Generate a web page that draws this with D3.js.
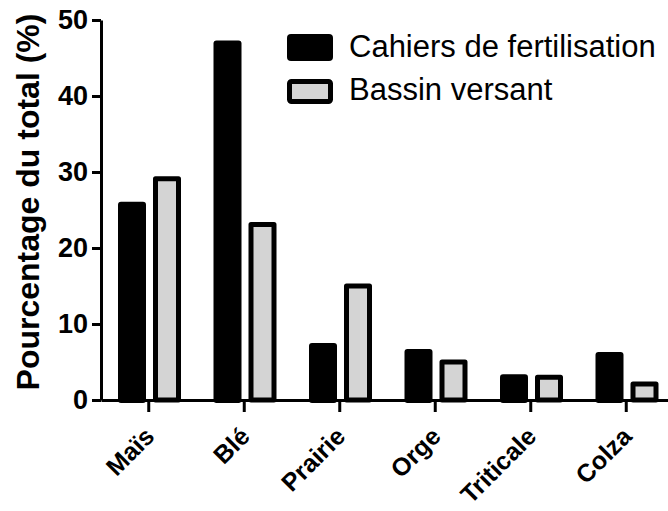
<!DOCTYPE html>
<html><head><meta charset="utf-8">
<script src="https://cdn.jsdelivr.net/npm/d3@7"></script>
<style>body{margin:0;background:#fff;}svg{display:block;font-family:"Liberation Sans",Arial,sans-serif;}</style>
</head><body>
<svg id="chart" width="668" height="511"></svg>
<script>
const categories = ["Maïs","Blé","Prairie","Orge","Triticale","Colza"];
const seriesNames = ["Cahiers de fertilisation","Bassin versant"];
const cahiers = [26.1, 47.3, 7.5, 6.7, 3.4, 6.3];
const bassin = [29.1, 23.1, 15.0, 5.0, 3.0, 2.1];
const yTicks = [0,10,20,30,40,50];
const yTitle = "Pourcentage du total (%)";

const svg = d3.select("#chart");
const x = d3.scaleBand().domain(categories).range([101, 674]);
const x1 = d3.scaleBand().domain(["c","b"]).range([17, 80]).paddingInner(0.2);
const y = d3.scaleLinear().domain([0,50]).range([400, 20]);
const SW = 5;
const grey = "#d4d4d4";
const FONT = "'Liberation Sans',Arial,sans-serif";

const g = svg.append("g");
g.selectAll("rect.c").data(categories).join("rect").attr("class","c")
  .attr("x", d => x(d) + x1("c"))
  .attr("y", (d,i) => y(cahiers[i]))
  .attr("width", x1.bandwidth())
  .attr("height", (d,i) => y(0) - y(cahiers[i]) + 3)
  .attr("rx", 3).attr("fill", "#000");
g.selectAll("rect.b").data(categories).join("rect").attr("class","b")
  .attr("x", d => x(d) + x1("b") + SW/2)
  .attr("y", (d,i) => y(bassin[i]))
  .attr("width", x1.bandwidth() - SW)
  .attr("height", (d,i) => y(0) - y(bassin[i]))
  .attr("fill", grey).attr("stroke", "#000").attr("stroke-width", SW)
  .attr("stroke-linejoin","round");

// y axis
const ya = svg.append("g").attr("transform","translate(101,0)")
  .call(d3.axisLeft(y).tickValues(yTicks).tickSize(9).tickSizeOuter(0).tickFormat(d3.format("d")));
ya.select(".domain").attr("stroke-width",3);
ya.selectAll(".tick line").attr("stroke-width",3);
ya.selectAll(".tick text").attr("font-size",27).attr("font-weight","bold")
  .attr("font-family",FONT).attr("x",-13).attr("fill","#000");

// x axis (ticks only; labels drawn separately)
const xa = svg.append("g").attr("transform","translate(0,400)")
  .call(d3.axisBottom(x).tickSize(12).tickSizeOuter(0).tickFormat(""));
xa.select(".domain").attr("stroke-width",3);
xa.selectAll(".tick line").attr("stroke-width",3);

svg.append("g").selectAll("text").data(categories).join("text")
  .attr("transform", d => `translate(${x(d) + x.bandwidth()/2 + 7},438) rotate(-45)`)
  .attr("text-anchor","end").attr("font-size",25).attr("font-weight","bold")
  .attr("font-family",FONT).attr("fill","#000")
  .text(d => d);

// y title
svg.append("text").attr("transform","translate(39,202) rotate(-90)")
  .attr("text-anchor","middle").attr("font-size",32).attr("font-weight","bold")
  .text(yTitle);

// legend
const leg = svg.append("g");
leg.append("rect").attr("x",287).attr("y",34).attr("width",46).attr("height",27).attr("rx",4).attr("fill","#000");
leg.append("rect").attr("x",289.5).attr("y",81.5).attr("width",41).attr("height",20).attr("rx",2)
  .attr("fill",grey).attr("stroke","#000").attr("stroke-width",SW);
leg.append("text").attr("x",349).attr("y",57).attr("font-size",31).text(seriesNames[0]);
leg.append("text").attr("x",349).attr("y",100).attr("font-size",31).text(seriesNames[1]);
</script>
</body></html>
